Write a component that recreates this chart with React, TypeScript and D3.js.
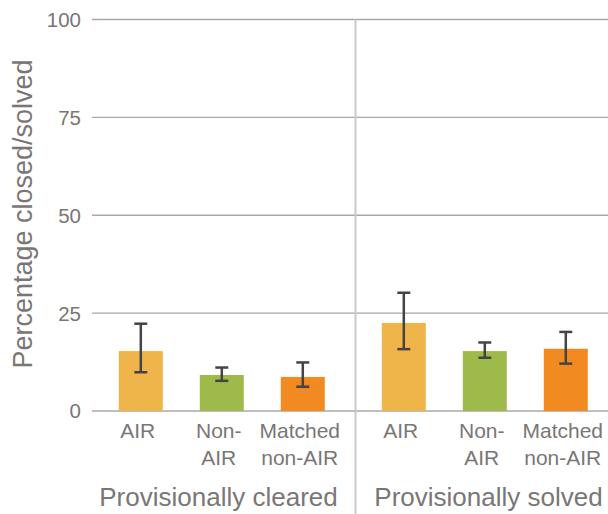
import React from "react";
import { scaleBand, scaleLinear } from "d3";

const groups = ["Provisionally cleared", "Provisionally solved"];
const categories = ["AIR", "Non-AIR", "Matched non-AIR"];
const categoryLines = [["AIR"], ["Non-", "AIR"], ["Matched", "non-AIR"]];
const colors = ["#EFB44A", "#9DBA4A", "#F28A22"];

// values per group, same order as categories
const clearedValues = [15.3, 9.2, 8.7];
const clearedLow = [9.9, 7.7, 6.2];
const clearedHigh = [22.3, 11.1, 12.4];

const solvedValues = [22.5, 15.3, 15.9];
const solvedLow = [15.8, 13.6, 12.1];
const solvedHigh = [30.2, 17.5, 20.2];

const yTicks = [0, 25, 50, 75, 100];

const W = 608;
const H = 514;
const textColor = "#7a7676";
const font = "'Liberation Sans', Arial, Helvetica, sans-serif";

export default function App() {
  const x0 = 92;
  const groupW = 263;

  const y = scaleLinear().domain([0, 100]).range([411, 19.5]);

  const gx = scaleBand().domain(groups).range([x0, x0 + groupW * 2]);

  const bx = scaleBand()
    .domain(categories)
    .range([0, groupW])
    .paddingInner(0.457)
    .paddingOuter(0.352)
    .align(0.47);

  const series = [
    { group: groups[0], values: clearedValues, low: clearedLow, high: clearedHigh, nudge: -5 },
    { group: groups[1], values: solvedValues, low: solvedLow, high: solvedHigh, nudge: 2 },
  ];

  const bw = bx.bandwidth();

  return (
    <svg
      width={W}
      height={H}
      style={{ position: "absolute", left: 0, top: 0, fontFamily: font }}
    >
      {/* grid */}
      {yTicks.map((t) => (
        <g key={t}>
          <line x1={x0} x2={W} y1={y(t)} y2={y(t)} stroke="#a8a8a8" strokeWidth={1.4} />
          <text
            x={81}
            y={y(t)}
            dy="0.36em"
            textAnchor="end"
            fontSize={20.5}
            fill={textColor}
          >
            {t}
          </text>
        </g>
      ))}

      {/* group divider */}
      <line
        x1={(gx(groups[1]) ?? 0) + 0.5}
        x2={(gx(groups[1]) ?? 0) + 0.5}
        y1={y(100)}
        y2={H}
        stroke="#c9c9c9"
        strokeWidth={2}
      />

      {/* bars */}
      {series.map((s) => {
        const gx0 = gx(s.group) ?? 0;
        return (
          <g key={s.group}>
            {categories.map((c, i) => {
              const bx0 = gx0 + (bx(c) ?? 0);
              const cx = bx0 + bw / 2;
              return (
                <g key={c}>
                  <rect
                    x={bx0}
                    y={y(s.values[i])}
                    width={bw}
                    height={y(0) - y(s.values[i])}
                    fill={colors[i]}
                  />
                  <g stroke="#444" strokeWidth={2.5}>
                    <line x1={cx} x2={cx} y1={y(s.high[i])} y2={y(s.low[i])} />
                    <line x1={cx - 6.5} x2={cx + 6.5} y1={y(s.high[i])} y2={y(s.high[i])} />
                    <line x1={cx - 6.5} x2={cx + 6.5} y1={y(s.low[i])} y2={y(s.low[i])} />
                  </g>
                  <text
                    x={cx - 3}
                    y={438}
                    textAnchor="middle"
                    fontSize={21}
                    fill={textColor}
                  >
                    {categoryLines[i].map((ln, j) => (
                      <tspan key={j} x={cx - 3} dy={j === 0 ? 0 : 27}>
                        {ln}
                      </tspan>
                    ))}
                  </text>
                </g>
              );
            })}
            <text
              x={gx0 + groupW / 2 + s.nudge}
              y={506}
              textAnchor="middle"
              fontSize={26}
              fill={textColor}
            >
              {s.group}
            </text>
          </g>
        );
      })}

      {/* y axis title */}
      <text
        transform={`translate(32, 214) rotate(-90)`}
        textAnchor="middle"
        fontSize={27}
        fill={textColor}
      >
        Percentage closed/solved
      </text>
    </svg>
  );
}
